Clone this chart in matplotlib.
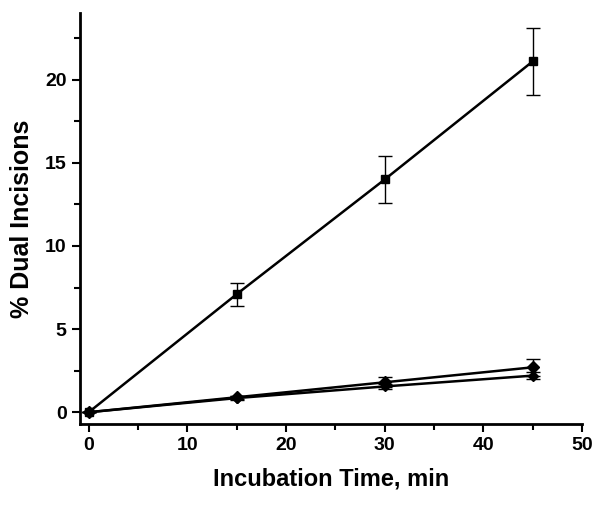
import matplotlib
matplotlib.use("Agg")
import matplotlib.pyplot as plt
from matplotlib.ticker import MultipleLocator

plt.rcParams["font.family"] = ["Liberation Sans", "DejaVu Sans"]
plt.rcParams["font.weight"] = "bold"

time_min = [0, 15, 30, 45]

sq_vals = [0.0, 7.1, 14.0, 21.1]
sq_err = [0.0, 0.7, 1.4, 2.0]

dia_vals = [0.0, 0.9, 1.8, 2.7]
dia_err = [0.0, 0.1, 0.3, 0.5]

circ_vals = [0.0, 0.85, 1.55, 2.2]
circ_err = [0.0, 0.1, 0.15, 0.2]

fig = plt.figure(figsize=(6.05, 5.07), dpi=100)
ax = fig.add_axes([0.132, 0.164, 0.83, 0.81])

ax.errorbar(time_min, sq_vals, yerr=sq_err, marker="s", ms=6, color="black",
            lw=1.8, elinewidth=1.0, capsize=5, capthick=1.0)
ax.errorbar(time_min, dia_vals, yerr=dia_err, marker="D", ms=6, color="black",
            lw=1.8, elinewidth=1.0, capsize=5, capthick=1.0)
ax.errorbar(time_min, circ_vals, yerr=circ_err, marker="D", ms=5.5, color="black",
            lw=1.8, elinewidth=1.0, capsize=5, capthick=1.0)

ax.set_xlim(-0.9, 50)
ax.set_ylim(-0.7, 24)
ax.xaxis.set_major_locator(MultipleLocator(10))
ax.xaxis.set_minor_locator(MultipleLocator(5))
ax.yaxis.set_major_locator(MultipleLocator(5))
ax.yaxis.set_minor_locator(MultipleLocator(2.5))

for s in ["top", "right"]:
    ax.spines[s].set_visible(False)
for s in ["left", "bottom"]:
    ax.spines[s].set_linewidth(2)

ax.tick_params(which="major", direction="out", length=6, width=1.5, labelsize=14)
ax.tick_params(which="minor", direction="out", length=4, width=1.5)

ax.set_xlabel("Incubation Time, min", fontsize=17, fontweight="bold", labelpad=10)
ax.set_ylabel("% Dual Incisions", fontsize=18, fontweight="bold", labelpad=8)

fig.savefig("out.png", dpi=100)
